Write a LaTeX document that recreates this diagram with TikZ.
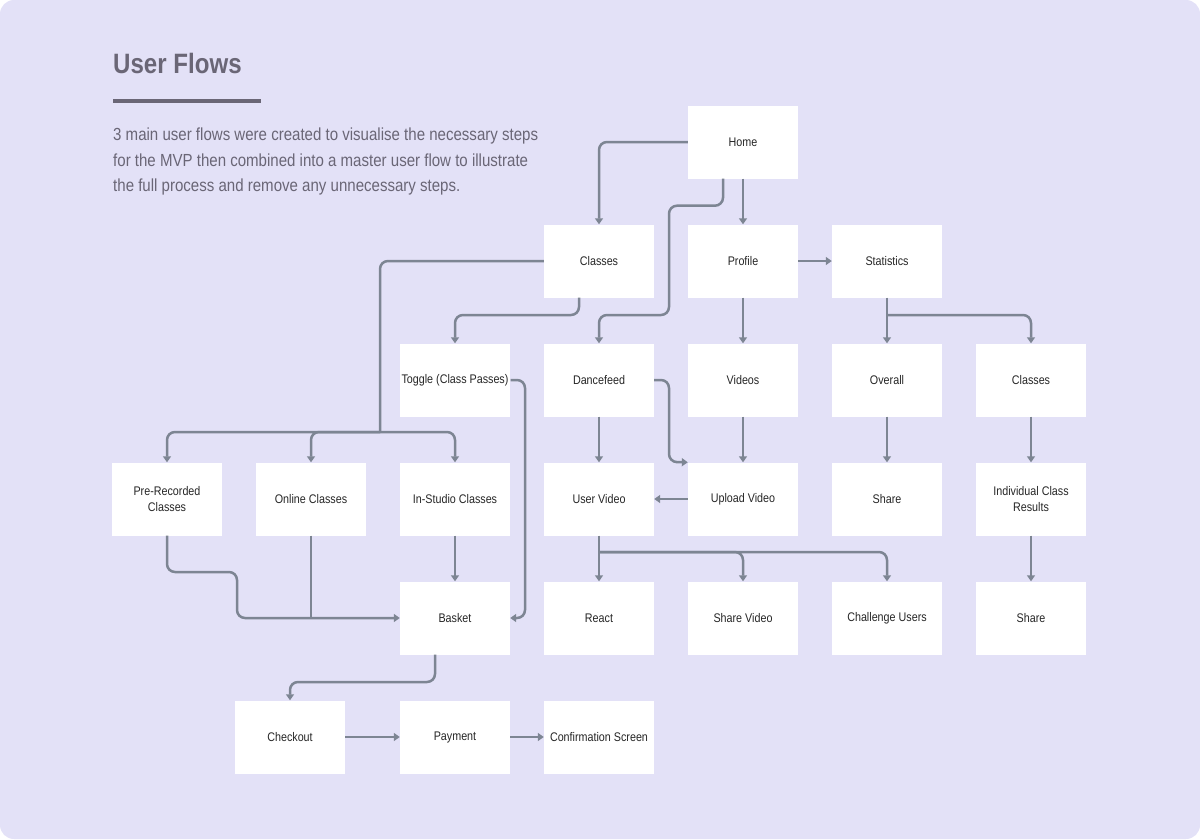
\documentclass[tikz,border=0pt]{standalone}
\usepackage{fontspec}
\setmainfont{Liberation Sans}[FakeStretch=0.86]
\usetikzlibrary{arrows.meta}
\definecolor{bg}{HTML}{E3E1F7}
\definecolor{ln}{HTML}{7D8593}
\definecolor{tx}{HTML}{6A6676}
\tikzset{
 box/.style={fill=white,minimum width=110pt,minimum height=73pt,inner sep=2pt,align=center,font=\fontsize{12.5}{16}\selectfont,text=black!85},
 conn/.style={draw=ln,line width=2.5pt,rounded corners=8pt,-{Triangle[length=6pt,width=8pt]}},
 plain/.style={draw=ln,line width=2.5pt,rounded corners=8pt}
}
\begin{document}
\begin{tikzpicture}[x=1pt,y=-1pt]
\useasboundingbox (0,0) rectangle (1200,839);
\fill[bg,rounded corners=14pt] (0,0) rectangle (1200,839);
\node[anchor=west,font=\bfseries\fontsize{28}{32}\selectfont,text=tx,inner sep=0] (title) at (113,63) {User Flows};
\draw[tx,line width=4pt] (113,101) -- (261,101);
\node[anchor=north west,align=left,font=\fontsize{17.5}{25.5}\selectfont,text=tx,inner sep=0] (para) at (113,128) {3 main user flows were created to visualise the necessary steps\\for the MVP then combined into a master user flow to illustrate\\the full process and remove any unnecessary steps.};
% nodes
\node[box] (home) at (743,142) {Home};
\node[box] (classes) at (599,261) {Classes};
\node[box] (profile) at (743,261) {Profile};
\node[box] (stats) at (887,261) {Statistics};
\node[box] (toggle) at (455,380) {Toggle (Class Passes)};
\node[box] (dance) at (599,380) {Dancefeed};
\node[box] (videos) at (743,380) {Videos};
\node[box] (overall) at (887,380) {Overall};
\node[box] (sclasses) at (1031,380) {Classes};
\node[box] (pre) at (167,499) {Pre-Recorded\\Classes};
\node[box] (online) at (311,499) {Online Classes};
\node[box] (studio) at (455,499) {In-Studio Classes};
\node[box] (uservid) at (599,499) {User Video};
\node[box] (upload) at (743,499) {Upload Video};
\node[box] (share1) at (887,499) {Share};
\node[box] (indiv) at (1031,499) {Individual Class\\Results};
\node[box] (basket) at (455,618) {Basket};
\node[box] (react) at (599,618) {React};
\node[box] (sharevid) at (743,618) {Share Video};
\node[box] (chall) at (887,618) {Challenge Users};
\node[box] (share2) at (1031,618) {Share};
\node[box] (checkout) at (290,737) {Checkout};
\node[box] (payment) at (455,737) {Payment};
\node[box] (confirm) at (599,737) {Confirmation Screen};
% connectors
\draw[conn] (home.west) -| (classes.north);
\draw[conn] ([xshift=-20pt]home.south) -- ++(0,27) -| (669,315) -| (dance.north);
\draw[conn] (home.south) -- (profile.north);
\coordinate (cj) at (380,432);
\draw[plain] (classes.west) -| (cj);
\draw[conn] (cj) -| (pre.north);
\draw[conn] (cj) -| (online.north);
\draw[conn] (cj) -| (studio.north);
\draw[conn] ([xshift=-20pt]classes.south) |- (520,315) -| (toggle.north);
\draw[conn] (profile.east) -- (stats.west);
\draw[conn] (profile.south) -- (videos.north);
\coordinate (sj) at (887,315);
\draw[conn] (stats.south) -- (overall.north);
\draw[conn] (sj) -| (sclasses.north);
\draw[conn] (toggle.east) -| (525,618) -- (basket.east);
\draw[conn] (dance.east) -| (669,462) -- (upload.north west);
\draw[conn] (dance.south) -- (uservid.north);
\draw[conn] (videos.south) -- (upload.north);
\draw[conn] (upload.west) -- (uservid.east);
\draw[conn] (overall.south) -- (share1.north);
\draw[conn] (sclasses.south) -- (indiv.north);
\draw[conn] (indiv.south) -- (share2.north);
\coordinate (uj) at (599,552);
\draw[conn] (uservid.south) -- (react.north);
\draw[conn] (uj) -| (sharevid.north);
\draw[conn] (uj) -| (chall.north);
\draw[conn] (pre.south) |- (237,572) |- (basket.west);
\draw[plain] (online.south) -- (311,618);
\draw[conn] (studio.south) -- (basket.north);
\draw[conn] ([xshift=-20pt]basket.south) |- (400,682) -| (checkout.north);
\draw[conn] (checkout.east) -- (payment.west);
\draw[conn] (payment.east) -- (confirm.west);
\end{tikzpicture}
\end{document}
